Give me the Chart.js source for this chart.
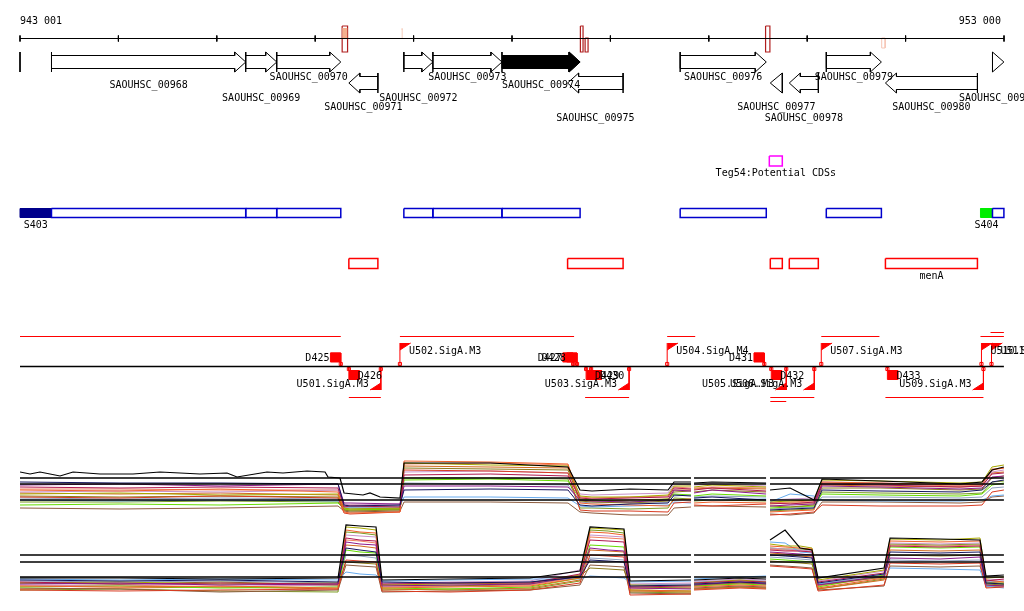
<!DOCTYPE html>
<html>
<head>
<meta charset="utf-8">
<title>SAOUHSC_00974 region</title>
<script src="https://cdn.jsdelivr.net/npm/chart.js@4.4.1/dist/chart.umd.min.js"></script>
<style>
  html, body { margin: 0; padding: 0; background: #fff; }
  #view { position: relative; width: 1024px; height: 611px; overflow: hidden; }
  #view canvas { position: absolute; left: 0; }
</style>
</head>
<body>
<div id="view">
  <canvas id="tracks" width="1024" height="611" style="top:0"></canvas>
  <canvas id="expr1" width="1024" height="90" style="top:440px"></canvas>
  <canvas id="expr2" width="1024" height="90" style="top:515px"></canvas>
</div>
<script>
// ---- window ----
const viewStart = 943001;
const viewEnd = 953001;
const rulerTicks = [943001, 944001, 945001, 946001, 947001, 948001, 949001, 950001, 951001, 952001, 953001];
const rulerText = ['943 001', '953 000'];
const rulerTextPos = [943001, 953000];

// ---- genes ----
const geneNames = ['SAOUHSC_00968', 'SAOUHSC_00969', 'SAOUHSC_00970', 'SAOUHSC_00971', 'SAOUHSC_00972',
  'SAOUHSC_00973', 'SAOUHSC_00974', 'SAOUHSC_00975', 'SAOUHSC_00976', 'SAOUHSC_00977',
  'SAOUHSC_00978', 'SAOUHSC_00979', 'SAOUHSC_00980', 'SAOUHSC_00981'];
const geneStart = [943321, 945295, 945610, 946343, 946902, 947197, 947899, 948566, 949710, 950626, 950819, 951195, 951796, 952884];
const geneEnd = [945295, 945610, 946261, 946638, 947197, 947899, 948693, 949130, 950585, 950748, 951114, 951755, 952731, 953000];
const geneStrand = ['+', '+', '+', '-', '+', '+', '+', '-', '+', '-', '-', '+', '-', '+'];
const selectedGene = 'SAOUHSC_00974';
const contigEdge = [943001];
const aliasGene = ['SAOUHSC_00980'];
const aliasText = ['menA'];

// ---- marks on the ruler ----
const markStart = [946275, 946877, 948696, 948744, 950578, 951758];
const markEnd = [946330, 946892, 948723, 948774, 950622, 951793];
const markKind = ['tallFilled', 'pale', 'tall', 'short', 'tall', 'paleShort'];

// ---- segments / potential CDS ----
const segNames = ['S403', 'S404'];
const segStart = [943001, 952762];
const segEnd = [943321, 952884];
const tegNames = ['Teg54:Potential CDSs'];
const tegStart = [950616];
const tegEnd = [950748];

// ---- transcription starts and terminators ----
const tssNames = ['U501.SigA.M3', 'U502.SigA.M3', 'U503.SigA.M3', 'U504.SigA.M4', 'U505.SigA.M3',
  'U506.SigA.M3', 'U507.SigA.M3', 'U509.SigA.M3', 'U510.SigA.M3', 'U511.SigA.M3'];
const tssPos = [946668, 946862, 949191, 949578, 950788, 951073, 951144, 952792, 952772, 952874];
const tssStrand = ['-', '+', '-', '+', '-', '-', '+', '-', '+', '+'];
const termNames = ['D425', 'D426', 'D427', 'D428', 'D429', 'D430', 'D431', 'D432', 'D433'];
const termPos = [946261, 946343, 948622, 948662, 948754, 948805, 950565, 950636, 951816];
const termStrand = ['+', '-', '+', '+', '-', '-', '+', '-', '-'];
const txPlusStart = [943001, 946862, 949578, 951144, 952762, 952864];
const txPlusEnd = [946261, 948632, 949863, 951735, 953000, 953000];
const txPlusLane = [0, 0, 0, 0, 0, 1];
const txMinusStart = [946343, 948744, 950626, 951796, 950626];
const txMinusEnd = [946668, 949191, 951073, 952792, 950788];
const txMinusLane = [0, 0, 0, 0, 1];

// ---- expression profiles ----
const exprGaps = [[949820, 949851], [950583, 950623]];
const expr1Pos = [943001, 944017, 945034, 946233, 946294, 946355, 946863, 946904, 947778, 948570, 948692, 948814,
  949200, 949587, 949648, 949820, 949851, 950034, 950583, 950623, 950827, 951070, 951152, 951741, 952554, 952778, 952879, 953000];
const expr1BlackPos = [943001, 943103, 943204, 943408, 943540, 943814, 944149, 944424, 944830, 945105, 945206, 945511,
  945674, 945918, 946101, 946131, 946253, 946294, 946487, 946558, 946660, 946863, 946904,
  947778, 948570, 948692, 948814, 949200, 949587, 949648, 949820, 949851, 950034, 950583, 950623, 950827, 951070,
  951152, 951741, 952554, 952778, 952879, 953000];
const expr2Pos = [943001, 944017, 945034, 946233, 946314, 946456, 946619, 946680, 947371, 948184, 948692, 948794,
  948977, 949139, 949200, 949820, 949851, 950318, 950583, 950623, 950776, 950928, 951050, 951111, 951782, 951843,
  952351, 952757, 952818, 953000];
const expr1Cut = [5.2, 4.6, 3.0];
const expr2Cut = [5.0, 4.3, 2.8];

const p1Black = [5.8, 5.6, 5.8, 5.4, 5.8, 5.6, 5.6, 5.8, 5.6, 5.7, 5.3, 5.8, 5.7, 5.9, 5.8, 5.3, 5.2, 3.7, 3.5, 3.7, 3.3, 3.2, 6.7,
  6.7, 6.3, 4.0, 3.9, 4.1, 4.0, 4.8, 4.8, 4.7, 4.8, 4.7, 4.0, 4.2, 3.0, 5.1, 4.9, 4.6, 4.8, 6.0, 6.3];
const p1Navy = [4.8, 4.7, 4.7, 4.6, 2.5, 2.4, 2.5, 4.0, 4.1, 4.0, 2.5, 2.4, 2.6, 2.7, 3.5, 3.4, 3.2, 3.3, 3.0, 2.0, 2.1, 2.2, 4.0, 3.9, 3.8, 4.0, 4.8, 5.0];
const p1Purple = [4.5, 4.6, 4.4, 4.6, 2.7, 2.7, 2.6, 4.4, 4.4, 4.3, 3.0, 2.9, 2.8, 3.0, 4.0, 3.9, 3.7, 4.0, 3.6, 2.4, 2.5, 2.6, 4.4, 4.3, 4.1, 4.2, 5.3, 5.4];
const p1Crimson = [4.3, 4.2, 4.3, 4.2, 2.3, 2.4, 2.3, 5.5, 5.6, 5.4, 3.2, 3.1, 3.2, 3.3, 4.2, 4.1, 4.0, 4.2, 3.9, 2.7, 2.6, 2.8, 4.6, 4.5, 4.3, 4.4, 5.6, 5.7];
const p1Orange = [4.0, 3.9, 4.1, 3.8, 1.8, 1.7, 1.8, 6.9, 6.8, 6.6, 2.7, 2.6, 2.5, 2.4, 3.0, 3.1, 2.7, 2.8, 2.7, 1.8, 1.9, 2.0, 4.8, 4.7, 4.5, 4.6, 6.0, 6.2];
const p1Red = [3.3, 3.2, 3.4, 3.2, 1.7, 1.6, 1.8, 6.0, 5.9, 5.7, 2.0, 1.9, 1.9, 1.8, 2.7, 2.8, 2.5, 2.4, 2.6, 1.5, 1.6, 1.8, 2.5, 2.4, 2.4, 2.5, 3.8, 4.0];
const p1Olive = [3.6, 3.7, 3.5, 3.6, 2.2, 2.1, 2.2, 6.7, 6.5, 6.4, 3.4, 3.3, 3.3, 3.5, 4.4, 4.4, 4.3, 4.5, 4.3, 2.8, 2.9, 3.0, 5.0, 4.9, 4.7, 4.8, 6.3, 6.5];
const p1OliveBrown = [3.4, 3.3, 3.4, 3.3, 2.0, 1.9, 2.0, 6.2, 6.1, 6.0, 2.9, 2.8, 2.7, 2.9, 3.8, 3.9, 3.8, 4.0, 3.8, 2.4, 2.3, 2.5, 4.2, 4.2, 4.0, 4.1, 5.2, 5.4];
const p1Lime = [2.5, 2.6, 2.5, 2.7, 2.1, 2.0, 2.1, 5.0, 5.1, 4.9, 3.1, 3.0, 2.8, 3.1, 3.6, 3.5, 3.4, 3.6, 3.4, 2.2, 2.3, 2.4, 3.6, 3.5, 3.4, 3.6, 4.5, 4.7];
const p1LightBlue = [3.0, 2.9, 3.0, 2.9, 2.4, 2.3, 2.4, 3.3, 3.3, 3.2, 2.4, 2.3, 2.4, 2.5, 2.8, 2.7, 3.1, 3.0, 3.1, 2.8, 3.6, 3.4, 3.0, 2.9, 2.9, 3.0, 3.4, 3.5];
const p1Brown = [2.2, 2.1, 2.2, 2.4, 1.9, 1.8, 1.9, 2.8, 2.8, 2.7, 1.8, 1.7, 1.5, 1.5, 2.2, 2.3, 2.4, 2.4, 2.3, 1.6, 1.5, 1.7, 2.8, 2.8, 2.7, 2.8, 3.3, 3.4];
const p1Lilac = [3.8, 3.9, 3.8, 4.0, 2.6, 2.5, 2.6, 5.8, 5.9, 5.7, 3.6, 3.5, 3.6, 3.7, 4.6, 4.5, 4.5, 4.6, 4.4, 3.0, 3.1, 3.2, 4.8, 4.7, 4.5, 4.6, 5.8, 6.0];
const p1Chocolate = [3.7, 3.6, 3.7, 3.5, 2.0, 2.0, 2.1, 6.4, 6.3, 6.2, 3.0, 2.9, 3.0, 3.1, 4.0, 4.0, 4.1, 4.2, 4.1, 2.6, 2.7, 2.7, 4.5, 4.4, 4.3, 4.4, 5.7, 5.8];
const p1Steel = [3.2, 3.1, 3.2, 3.1, 2.3, 2.2, 2.3, 4.7, 4.6, 4.5, 2.8, 2.7, 2.8, 2.8, 3.4, 3.5, 3.3, 3.4, 3.3, 2.1, 2.2, 2.3, 3.3, 3.3, 3.2, 3.3, 4.2, 4.3];
const p1YellowGreen = [2.8, 2.8, 2.9, 2.8, 2.1, 2.2, 2.1, 5.2, 5.2, 5.1, 2.2, 2.2, 2.1, 2.2, 3.2, 3.1, 2.9, 3.0, 2.9, 1.9, 2.0, 2.1, 3.8, 3.7, 3.6, 3.7, 4.8, 4.9];
const p1Salmon = [4.1, 4.1, 4.0, 4.0, 2.4, 2.5, 2.4, 6.6, 6.7, 6.5, 3.3, 3.2, 3.3, 3.4, 4.3, 4.2, 4.2, 4.3, 4.2, 2.7, 2.8, 2.9, 4.7, 4.6, 4.4, 4.5, 6.1, 6.2];

const p2Black = [2.7, 2.7, 2.6, 2.7, 8.0, 7.9, 7.8, 2.5, 2.6, 2.7, 3.4, 7.8, 7.7, 7.6, 2.4, 2.5, 2.5, 2.7, 2.6, 6.5, 7.5, 5.7, 5.5, 2.7, 3.7, 6.7, 6.6, 6.5, 2.9, 3.0];
const p2Navy = [2.5, 2.4, 2.5, 2.3, 5.7, 5.5, 5.3, 2.3, 2.2, 2.3, 2.8, 4.5, 4.4, 4.3, 1.9, 2.0, 2.1, 2.3, 2.2, 5.0, 4.9, 4.8, 4.7, 2.2, 3.1, 5.3, 5.2, 5.3, 2.2, 2.1];
const p2Purple = [2.1, 2.2, 2.0, 2.1, 6.3, 6.1, 6.0, 1.9, 2.0, 2.1, 2.9, 5.7, 5.5, 5.4, 1.7, 1.6, 2.0, 2.3, 2.1, 5.3, 5.2, 5.1, 5.0, 2.0, 2.9, 4.7, 4.6, 4.8, 2.0, 1.9];
const p2Crimson = [2.3, 2.1, 2.2, 2.1, 6.7, 6.5, 6.4, 2.1, 2.2, 2.2, 3.1, 6.5, 6.4, 6.3, 1.8, 1.9, 2.2, 2.4, 2.3, 5.5, 5.4, 5.4, 5.3, 2.3, 3.2, 5.9, 5.8, 5.9, 2.4, 2.6];
const p2Orange = [1.9, 1.8, 1.9, 1.7, 7.5, 7.3, 7.2, 1.7, 1.8, 1.9, 2.7, 7.3, 7.2, 7.0, 1.5, 1.4, 1.8, 2.0, 1.9, 5.9, 5.8, 5.7, 5.6, 1.7, 2.7, 6.4, 6.3, 6.4, 2.5, 2.3];
const p2Red = [1.5, 1.4, 1.5, 1.6, 4.5, 4.4, 4.3, 1.4, 1.3, 1.5, 2.2, 5.0, 4.9, 4.8, 1.0, 1.1, 1.5, 1.7, 1.6, 3.9, 3.8, 3.7, 3.6, 1.4, 2.0, 4.2, 4.1, 4.2, 1.7, 1.8];
const p2Olive = [2.2, 2.3, 2.1, 2.2, 7.8, 7.7, 7.5, 2.0, 2.1, 2.2, 3.0, 7.7, 7.6, 7.5, 2.0, 1.9, 2.2, 2.5, 2.3, 6.1, 5.9, 5.9, 5.7, 2.5, 3.5, 6.6, 6.5, 6.7, 2.7, 2.8];
const p2OliveBrown = [2.2, 2.1, 2.3, 2.0, 4.3, 4.2, 4.1, 2.0, 1.9, 2.1, 2.9, 3.7, 3.6, 3.5, 1.8, 1.7, 2.0, 2.2, 2.1, 4.4, 4.3, 4.2, 4.1, 2.0, 2.8, 5.0, 4.9, 5.0, 2.1, 2.0];
const p2Lime = [1.8, 1.9, 1.7, 1.8, 5.5, 5.3, 5.2, 1.7, 1.6, 1.8, 2.7, 6.0, 5.9, 5.8, 1.5, 1.4, 1.9, 2.1, 2.0, 4.6, 4.5, 4.4, 4.3, 1.8, 3.0, 5.8, 5.7, 5.8, 2.1, 2.2];
const p2LightBlue = [2.6, 2.5, 2.6, 2.5, 3.3, 3.1, 3.0, 2.4, 2.5, 2.6, 2.6, 2.9, 2.8, 2.7, 2.3, 2.4, 2.6, 2.8, 2.9, 6.3, 6.2, 5.3, 5.2, 2.1, 2.8, 3.7, 3.6, 3.5, 1.9, 1.7];
const p2Brown = [1.7, 1.6, 1.3, 1.5, 4.0, 3.9, 3.8, 1.3, 1.4, 1.5, 2.0, 4.0, 3.9, 3.8, 1.2, 1.1, 1.7, 1.9, 1.8, 4.0, 3.9, 3.8, 3.7, 1.5, 1.9, 3.9, 3.8, 3.9, 1.9, 2.0];
const p2Lilac = [2.0, 2.0, 2.1, 1.9, 7.0, 6.9, 6.8, 2.2, 2.3, 2.4, 3.5, 7.0, 6.9, 6.8, 2.1, 2.2, 2.4, 2.6, 2.5, 5.7, 5.6, 5.5, 5.4, 2.4, 3.4, 6.2, 6.1, 6.2, 2.6, 2.5];
const p2Chocolate = [1.6, 1.7, 1.8, 1.6, 6.0, 5.9, 5.7, 1.6, 1.5, 1.7, 2.5, 5.5, 5.4, 5.3, 1.4, 1.3, 1.6, 1.8, 1.7, 5.2, 5.1, 4.9, 4.8, 1.6, 2.5, 5.5, 5.4, 5.5, 1.8, 1.9];
const p2Steel = [2.4, 2.3, 2.4, 2.2, 5.0, 4.9, 4.7, 2.1, 2.2, 2.3, 3.0, 4.7, 4.6, 4.5, 2.0, 2.1, 2.3, 2.5, 2.4, 4.8, 4.7, 4.6, 4.5, 2.1, 3.0, 4.5, 4.4, 4.5, 2.3, 2.4];
const p2YellowGreen = [1.5, 1.6, 1.4, 1.3, 7.3, 7.2, 7.0, 1.5, 1.6, 1.6, 2.4, 7.5, 7.4, 7.2, 1.3, 1.2, 1.6, 1.8, 1.7, 5.7, 5.6, 5.6, 5.5, 1.6, 2.6, 6.1, 6.0, 6.1, 2.3, 2.1];
const p2Salmon = [1.9, 2.0, 1.8, 2.0, 6.5, 6.4, 6.2, 1.8, 1.9, 2.0, 2.8, 6.8, 6.7, 6.6, 1.6, 1.7, 1.9, 2.2, 2.1, 5.6, 5.5, 5.4, 5.3, 1.9, 2.8, 6.0, 5.9, 6.0, 2.2, 2.3];

const expr1Series = [p1Black, p1Navy, p1Purple, p1Crimson, p1Orange, p1Red, p1Olive, p1OliveBrown,
  p1Lime, p1LightBlue, p1Brown, p1Lilac, p1Chocolate, p1Steel, p1YellowGreen, p1Salmon];
const expr2Series = [p2Black, p2Navy, p2Purple, p2Crimson, p2Orange, p2Red, p2Olive, p2OliveBrown,
  p2Lime, p2LightBlue, p2Brown, p2Lilac, p2Chocolate, p2Steel, p2YellowGreen, p2Salmon];
const seriesColors = ['#000000', '#14145e', '#8b1a8b', '#b0174f', '#f0602a', '#d83a20', '#a8a800', '#8c7a1a',
  '#66dd00', '#66aaee', '#8b5a3c', '#c890c8', '#d2691e', '#8fa0c0', '#7a9a20', '#f08060'];

// ---- layout (pixel rows of the track canvas, sizes) ----
const HEAD_BP = 112;
const FLAG_BP = 110;
const TERM_BP = 105;
const Y = {
  rulerText: 24, ruler: 38.5, tickTop: 35.5, tickBot: 41.5,
  markTop: 26, markMid: 38, markBot: 52, paleTop: 29, paleBot: 38.5, paleLowBot: 48,
  fTop: 52, fShaftTop: 55.5, fMid: 62, fShaftBot: 68.5, fBot: 72,
  rTop: 73, rShaftTop: 76.5, rMid: 83, rShaftBot: 89.5, rBot: 93,
  tegTop: 156, tegBot: 166, tegText: 176,
  cdsTop: 208.5, cdsBot: 217.5, cdsText: 228,
  ncTop: 258.5, ncBot: 268.5, ncText: 279,
  txPlus: [336.5, 332.5], txMinus: [397.5, 401.5],
  base: 366.5, flagUpTop: 343, flagUpBot: 350, flagDnTop: 383, flagDnBot: 390,
  termUpTop: 353, termUpBot: 362, termDnTop: 370.5, termDnBot: 379.5,
  dotUp: 364, dotDn: 369,
  uUpText: 354, uDnText: 387, dUpText: 361, dDnText: 379
};
const geneTextRow = [88, 101, 80, 110, 101, 80, 88, 121, 80, 110, 121, 80, 110, 101];

const FONT = '10px "DejaVu Sans Mono", monospace';
const pt = (x, y) => ({x, y});
const rectPts = (a, b, t, bt) => [pt(a, t), pt(b, t), pt(b, bt), pt(a, bt), pt(a, t)];

// ---------- track chart ----------
const trackSets = [];
const texts = [];
function add(data, color, width, extra) {
  trackSets.push(Object.assign({data, borderColor: color, borderWidth: width, clip: false}, extra || {}));
}
function fillRect(a, b, t, bt, color) {
  add([pt(a, t), pt(b, t)], color, 1, {fill: {value: bt}, backgroundColor: color});
  add(rectPts(a, b, t, bt), color, 1);
}

// ruler
add([pt(viewStart, Y.ruler), pt(953000, Y.ruler)], '#000', 1);
const tickPts = [];
rulerTicks.forEach(t => tickPts.push(pt(t, Y.tickTop), pt(t, Y.tickBot), pt(t, null)));
add(tickPts, '#000', 1);
texts.push({text: rulerText[0], x: rulerTextPos[0], dx: 0, y: Y.rulerText, align: 'left'});
texts.push({text: rulerText[1], x: rulerTextPos[1], dx: -3, y: Y.rulerText, align: 'right'});

markStart.forEach((a, i) => {
  const b = markEnd[i], k = markKind[i];
  if (k === 'pale') {
    add([pt(a, Y.paleTop), pt(b, Y.paleTop)], '#f6d2c2', 1.5, {fill: {value: Y.paleBot}, backgroundColor: '#f6d2c2'});
  } else if (k === 'paleShort') {
    add(rectPts(a, b, Y.markMid, Y.paleLowBot), '#f6c6b6', 1);
  } else {
    if (k === 'tallFilled') {
      add([pt(a, Y.markTop + 2), pt(b, Y.markTop + 2)], '#f4b090', 0, {fill: {value: Y.ruler}, backgroundColor: '#f4b090'});
    }
    add(rectPts(a, b, k === 'short' ? Y.markMid : Y.markTop, Y.markBot), '#b01e1e', 1.2);
  }
});

// gene arrows
contigEdge.forEach(x => add([pt(x, Y.fTop), pt(x, Y.fBot)], '#000', 1));
function geneShape(s, e, strand) {
  const short = (e - s) <= HEAD_BP * 1.15;
  if (strand === '+') {
    if (short) return [pt(s, Y.fTop), pt(s, Y.fBot), pt(e, Y.fMid), pt(s, Y.fTop)];
    const hb = e - HEAD_BP;
    return [pt(s, Y.fTop), pt(s, Y.fBot), pt(s, Y.fShaftBot), pt(hb, Y.fShaftBot), pt(hb, Y.fBot),
      pt(e, Y.fMid), pt(hb, Y.fTop), pt(hb, Y.fShaftTop), pt(s, Y.fShaftTop)];
  }
  if (short) return [pt(e, Y.rTop), pt(e, Y.rBot), pt(s, Y.rMid), pt(e, Y.rTop)];
  const hb = s + HEAD_BP;
  return [pt(e, Y.rTop), pt(e, Y.rBot), pt(e, Y.rShaftBot), pt(hb, Y.rShaftBot), pt(hb, Y.rBot),
    pt(s, Y.rMid), pt(hb, Y.rTop), pt(hb, Y.rShaftTop), pt(e, Y.rShaftTop)];
}
geneNames.forEach((name, i) => {
  const s = geneStart[i], e = geneEnd[i], st = geneStrand[i];
  if (name === selectedGene && st === '+') {
    const hb = e - HEAD_BP;
    add([pt(s, Y.fShaftTop), pt(hb, Y.fShaftTop), pt(hb, Y.fTop), pt(e, Y.fMid)], '#000', 1,
      {fill: {value: Y.fMid}, backgroundColor: '#000'});
    add([pt(s, Y.fShaftBot), pt(hb, Y.fShaftBot), pt(hb, Y.fBot), pt(e, Y.fMid)], '#000', 1,
      {fill: {value: Y.fMid}, backgroundColor: '#000'});
  }
  add(geneShape(s, e, st), '#000', 1);
  texts.push({text: name, x: (s + e) / 2, dx: 0, y: geneTextRow[i], align: 'center'});
  // coding boxes: forward in blue, reverse in red
  if (st === '+') {
    add(rectPts(s, e, Y.cdsTop, Y.cdsBot), '#0000cc', 1.5);
  } else {
    add(rectPts(s, e, Y.ncTop, Y.ncBot), '#ff0000', 1.5);
    const k = aliasGene.indexOf(name);
    if (k >= 0) texts.push({text: aliasText[k], x: (s + e) / 2, dx: 0, y: Y.ncText, align: 'center'});
  }
});

// segments S403 / S404
fillRect(segStart[0], segEnd[0], Y.cdsTop, Y.cdsBot, '#00008b');
fillRect(segStart[1], segEnd[1], Y.cdsTop, Y.cdsBot, '#00ee00');
segNames.forEach((n, i) => texts.push({text: n, x: (segStart[i] + segEnd[i]) / 2, dx: 0, y: Y.cdsText, align: 'center'}));

// potential CDS
tegNames.forEach((n, i) => {
  add(rectPts(tegStart[i], tegEnd[i], Y.tegTop, Y.tegBot), '#ff00ff', 1.5);
  texts.push({text: n, x: (tegStart[i] + tegEnd[i]) / 2, dx: 0, y: Y.tegText, align: 'center'});
});

// transcription units
add([pt(viewStart, Y.base), pt(953000, Y.base)], '#000', 1.3);
const txP = [];
txPlusStart.forEach((a, i) => { const y = Y.txPlus[txPlusLane[i]]; txP.push(pt(a, y), pt(txPlusEnd[i], y), pt(txPlusEnd[i], null)); });
add(txP, '#ff0000', 1);
const txM = [];
txMinusStart.forEach((a, i) => { const y = Y.txMinus[txMinusLane[i]]; txM.push(pt(a, y), pt(txMinusEnd[i], y), pt(txMinusEnd[i], null)); });
add(txM, '#ff0000', 1);

const stems = [], dotsUp = [], dotsDn = [];
tssPos.forEach((x, i) => {
  if (tssStrand[i] === '+') {
    stems.push(pt(x, Y.base), pt(x, Y.flagUpTop), pt(x, null));
    add([pt(x, Y.flagUpBot), pt(x + FLAG_BP, Y.flagUpTop)], '#ff0000', 1, {fill: {value: Y.flagUpTop}, backgroundColor: '#ff0000'});
    dotsUp.push(pt(x, Y.dotUp));
    texts.push({text: tssNames[i], x, dx: 9, y: Y.uUpText, align: 'left'});
  } else {
    stems.push(pt(x, Y.base), pt(x, Y.flagDnBot), pt(x, null));
    add([pt(x - FLAG_BP, Y.flagDnBot), pt(x, Y.flagDnTop)], '#ff0000', 1, {fill: {value: Y.flagDnBot}, backgroundColor: '#ff0000'});
    dotsDn.push(pt(x, Y.dotDn));
    texts.push({text: tssNames[i], x, dx: -12, y: Y.uDnText, align: 'right'});
  }
});
termPos.forEach((x, i) => {
  if (termStrand[i] === '+') {
    stems.push(pt(x, Y.termUpBot), pt(x, Y.base), pt(x, null));
    fillRect(x - TERM_BP, x, Y.termUpTop, Y.termUpBot, '#ff0000');
    dotsUp.push(pt(x, Y.dotUp));
    texts.push({text: termNames[i], x: x - TERM_BP, dx: -1, y: Y.dUpText, align: 'right'});
  } else {
    stems.push(pt(x, Y.base), pt(x, Y.termDnTop), pt(x, null));
    fillRect(x, x + TERM_BP, Y.termDnTop, Y.termDnBot, '#ff0000');
    dotsDn.push(pt(x, Y.dotDn));
    texts.push({text: termNames[i], x, dx: 9, y: Y.dDnText, align: 'left'});
  }
});
add(stems, '#ff0000', 1);
const dotStyle = {showLine: false, pointRadius: 2.2, pointStyle: 'rect', pointBackgroundColor: '#fff', pointBorderColor: '#ff0000', pointBorderWidth: 1};
add(dotsUp, '#ff0000', 1, dotStyle);
add(dotsDn, '#ff0000', 1, dotStyle);

const textPlugin = {
  id: 'trackText',
  afterDatasetsDraw(chart) {
    const ctx = chart.ctx, xs = chart.scales.x, ys = chart.scales.y;
    ctx.save();
    ctx.font = FONT;
    ctx.fillStyle = '#000';
    ctx.textBaseline = 'alphabetic';
    texts.forEach(t => {
      ctx.textAlign = t.align;
      ctx.fillText(t.text, xs.getPixelForValue(t.x) + t.dx, ys.getPixelForValue(t.y));
    });
    ctx.restore();
  }
};

const baseOptions = (yMin, yMax, rev) => ({
  responsive: false,
  animation: false,
  events: [],
  layout: {autoPadding: false, padding: {left: 20, right: 20, top: 0, bottom: 0}},
  elements: {point: {radius: 0}, line: {tension: 0, borderWidth: 1, fill: false}},
  plugins: {legend: {display: false}, tooltip: {enabled: false}},
  scales: {
    x: {type: 'linear', min: viewStart, max: viewEnd, display: false},
    y: {type: 'linear', min: yMin, max: yMax, reverse: rev, display: false}
  }
});

new Chart(document.getElementById('tracks'), {
  type: 'line',
  data: {datasets: trackSets},
  options: baseOptions(0, 611, true),
  plugins: [textPlugin]
});

// ---------- expression charts ----------
function exprSets(posList, series, cuts) {
  const sets = [];
  cuts.forEach(c => {
    const d = [pt(viewStart, c)];
    exprGaps.forEach(g => d.push(pt(g[0], c), pt((g[0] + g[1]) / 2, null), pt(g[1], c)));
    d.push(pt(953000, c));
    sets.push({data: d, borderColor: '#000', borderWidth: 1.5});
  });
  series.forEach((vals, i) => {
    const pos = posList[i];
    const d = pos.map((x, k) => pt(x, vals[k]));
    exprGaps.forEach(g => d.push(pt((g[0] + g[1]) / 2, null)));
    d.sort((a, b) => a.x - b.x);
    sets.push({data: d, borderColor: seriesColors[i], borderWidth: i === 0 ? 1.2 : 1});
  });
  return sets;
}
const expr1PosList = expr1Series.map((s, i) => i === 0 ? expr1BlackPos : expr1Pos);
const expr2PosList = expr2Series.map(() => expr2Pos);
new Chart(document.getElementById('expr1'), {
  type: 'line',
  data: {datasets: exprSets(expr1PosList, expr1Series, expr1Cut)},
  options: baseOptions(0, 9, false)
});
new Chart(document.getElementById('expr2'), {
  type: 'line',
  data: {datasets: exprSets(expr2PosList, expr2Series, expr2Cut)},
  options: baseOptions(0, 9, false)
});
</script>
</body>
</html>
